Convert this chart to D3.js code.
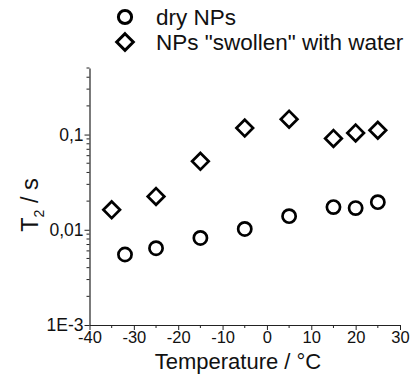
<!DOCTYPE html>
<html>
<head>
<meta charset="utf-8">
<script src="https://cdn.jsdelivr.net/npm/d3@7"></script>
<style>
  html, body { margin: 0; padding: 0; background: #fff; }
  svg { display: block; font-family: "Liberation Sans", Arial, Helvetica, sans-serif; }
</style>
</head>
<body>
<svg id="chart" width="412" height="374"></svg>
<script>
// Data
const dryTemps = [-32, -25, -15, -5, 5, 15, 20, 25];
const dryT2 = [0.0055, 0.0064, 0.0082, 0.0102, 0.0139, 0.0173, 0.0169, 0.0195];
const wetTemps = [-35, -25, -15, -5, 5, 15, 20, 25];
const wetT2 = [0.0162, 0.0224, 0.0524, 0.117, 0.145, 0.091, 0.104, 0.111];
const xTicks = [-40, -30, -20, -10, 0, 10, 20, 30];
const xMinorTicks = [-35, -25, -15, -5, 5, 15, 25];
const yTicks = [0.001, 0.01, 0.1];
const yTickLabels = ["1E-3", "0,01", "0,1"];
const yMinorTicks = [0.002,0.003,0.004,0.005,0.006,0.007,0.008,0.009,
                     0.02,0.03,0.04,0.05,0.06,0.07,0.08,0.09,
                     0.2,0.3,0.4,0.5];
const seriesNames = ["dry NPs", "NPs \"swollen\" with water"];

const svg = d3.select("#chart");
const x = d3.scaleLinear().domain([-40, 30]).range([89.5, 400]);
const y = d3.scaleLog().domain([0.001, 0.5]).range([325, 68]);

const axisColor = "#222";
const textColor = "#111";

// X axis
const gx = svg.append("g").attr("transform", `translate(0,${y(0.001)})`);
gx.call(d3.axisBottom(x).tickValues(xTicks).tickSize(5).tickSizeOuter(0).tickFormat(d => String(d)))
  .call(g => g.select(".domain").attr("stroke", axisColor).attr("stroke-width", 1.2))
  .call(g => g.selectAll(".tick line").attr("stroke", axisColor))
  .call(g => g.selectAll(".tick text").attr("font-size", 16.5).attr("fill", textColor).attr("dy", "0.71em").attr("y", 6).style("font-family", "Liberation Sans, Arial, sans-serif"));
gx.selectAll(".minor").data(xMinorTicks).enter().append("line")
  .attr("x1", d => x(d)).attr("x2", d => x(d)).attr("y1", 0).attr("y2", 3)
  .attr("stroke", axisColor);

// Y axis
const gy = svg.append("g").attr("transform", `translate(${x(-40)},0)`);
gy.call(d3.axisLeft(y).tickValues(yTicks).tickSize(5).tickSizeOuter(0).tickFormat((d, i) => yTickLabels[i]))
  .call(g => g.select(".domain").attr("stroke", axisColor).attr("stroke-width", 1.2))
  .call(g => g.selectAll(".tick line").attr("stroke", axisColor))
  .call(g => g.selectAll(".tick text").attr("font-size", 17.5).attr("fill", textColor).attr("x", -6).style("font-family", "Liberation Sans, Arial, sans-serif"));
gy.selectAll(".minor").data(yMinorTicks).enter().append("line")
  .attr("x1", -3).attr("x2", 0).attr("y1", d => y(d)).attr("y2", d => y(d))
  .attr("stroke", axisColor);

// Axis titles
svg.append("text").attr("x", 238).attr("y", 369)
  .attr("text-anchor", "middle").attr("font-size", 22).attr("fill", textColor)
  .text("Temperature / °C");

const yt = svg.append("text")
  .attr("transform", `translate(38,205) rotate(-90)`)
  .attr("text-anchor", "middle").attr("font-size", 23.5).attr("fill", textColor);
yt.append("tspan").text("T");
yt.append("tspan").attr("font-size", 14).attr("dy", 6).text("2");
yt.append("tspan").attr("dy", -6).text(" / s");

// Markers
const circleR = 6.6;
const diamondR = 8.3;
const sw = 2.7;
const diamondPath = r => `M0,${-r}L${r},0L0,${r}L${-r},0Z`;

svg.append("g").selectAll("circle").data(dryTemps).enter().append("circle")
  .attr("cx", (d) => x(d)).attr("cy", (d, i) => y(dryT2[i])).attr("r", circleR)
  .attr("fill", "none").attr("stroke", "#000").attr("stroke-width", sw);

svg.append("g").selectAll("path").data(wetTemps).enter().append("path")
  .attr("transform", (d, i) => `translate(${x(d)},${y(wetT2[i])})`)
  .attr("d", diamondPath(diamondR))
  .attr("fill", "none").attr("stroke", "#000").attr("stroke-width", sw).attr("stroke-linejoin", "miter");

// Legend
const leg = svg.append("g");
leg.append("circle").attr("cx", 125).attr("cy", 17).attr("r", circleR)
  .attr("fill", "none").attr("stroke", "#000").attr("stroke-width", sw + 0.3);
leg.append("text").attr("x", 156).attr("y", 25).attr("font-size", 22.5).attr("fill", textColor).text(seriesNames[0]);
leg.append("path").attr("transform", "translate(125,42)").attr("d", diamondPath(diamondR))
  .attr("fill", "none").attr("stroke", "#000").attr("stroke-width", sw + 0.3);
leg.append("text").attr("x", 156).attr("y", 50).attr("font-size", 22.5).attr("fill", textColor).text(seriesNames[1]);
</script>
</body>
</html>
